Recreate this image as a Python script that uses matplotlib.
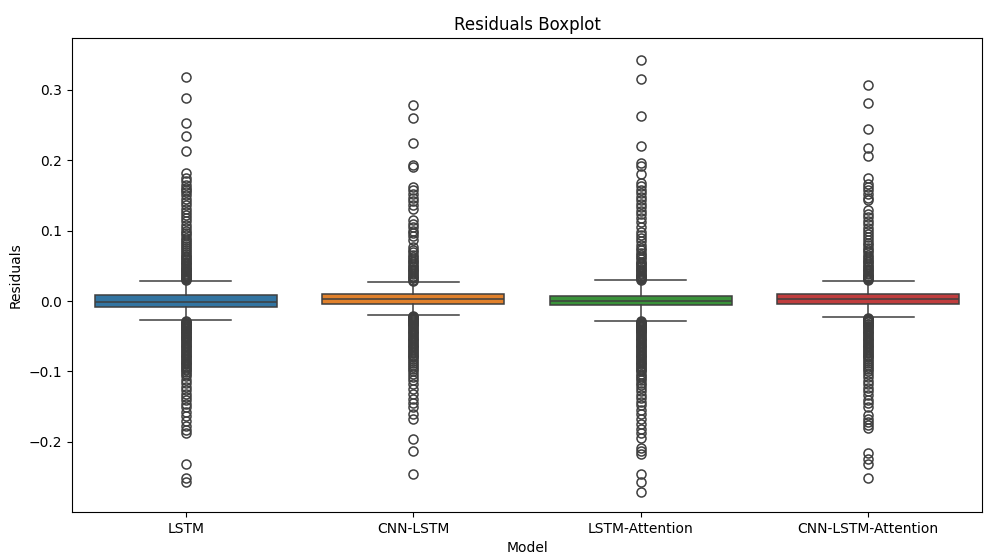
import matplotlib
matplotlib.use("Agg")
import matplotlib.pyplot as plt

models = ["LSTM", "CNN-LSTM", "LSTM-Attention", "CNN-LSTM-Attention"]
colors = ["#3274a1", "#e1812c", "#3a923a", "#c03d3e"]

q1 = [-0.0081, -0.0038, -0.0060, -0.0047]
med = [-0.0020, 0.0028, 0.0004, 0.0024]
q3 = [0.0085, 0.0095, 0.0075, 0.0100]
whislo = [-0.0275, -0.0200, -0.0280, -0.0230]
whishi = [0.0290, 0.0265, 0.0294, 0.0280]

fliers_lstm = [0.318, 0.289, 0.253, 0.234, 0.213, 0.182, 0.175, 0.170, 0.165, 0.161, 0.158,
               0.155, 0.150, 0.145, 0.140, 0.136, 0.131, 0.127, 0.122, 0.118, 0.113, 0.108,
               0.104, 0.100, 0.097, 0.094, 0.090, 0.087, 0.084, 0.081, 0.078, 0.075, 0.072,
               0.069, 0.067, 0.064, 0.062, 0.060, 0.058, 0.056, 0.054, 0.052, 0.050, 0.048,
               0.046, 0.045, 0.043, 0.042, 0.040, 0.039, 0.037, 0.036, 0.035, 0.034, 0.033,
               0.032, 0.031, 0.030,
               -0.029, -0.030, -0.031, -0.032, -0.033, -0.034, -0.035, -0.036, -0.037, -0.038,
               -0.039, -0.040, -0.042, -0.043, -0.045, -0.046, -0.048, -0.049, -0.051, -0.052,
               -0.054, -0.056, -0.058, -0.060, -0.062, -0.064, -0.066, -0.068, -0.070, -0.072,
               -0.074, -0.076, -0.078, -0.080, -0.082, -0.084, -0.086, -0.088, -0.090, -0.092,
               -0.094, -0.096, -0.098, -0.101, -0.104, -0.107, -0.112, -0.117, -0.122, -0.127,
               -0.132, -0.137, -0.141, -0.146, -0.151, -0.157, -0.163, -0.170, -0.178, -0.183,
               -0.188, -0.231, -0.252, -0.257]

fliers_cnn_lstm = [0.278, 0.260, 0.224, 0.193, 0.191, 0.162, 0.157, 0.152, 0.147, 0.142, 0.136,
                   0.131, 0.115, 0.110, 0.105, 0.100, 0.096, 0.092, 0.087, 0.077, 0.073, 0.069,
                   0.066, 0.063, 0.060, 0.057, 0.055, 0.052, 0.050, 0.048, 0.046, 0.044, 0.042,
                   0.040, 0.038, 0.036, 0.034, 0.032, 0.030, 0.028,
                   -0.021, -0.022, -0.023, -0.024, -0.025, -0.026, -0.027, -0.028, -0.030, -0.031,
                   -0.033, -0.034, -0.036, -0.038, -0.040, -0.042, -0.044, -0.046, -0.048, -0.050,
                   -0.052, -0.054, -0.056, -0.058, -0.060, -0.062, -0.064, -0.066, -0.068, -0.070,
                   -0.072, -0.074, -0.076, -0.078, -0.080, -0.082, -0.085, -0.088, -0.091, -0.094,
                   -0.097, -0.100, -0.104, -0.108, -0.112, -0.118, -0.125, -0.132, -0.139, -0.145,
                   -0.150, -0.160, -0.167, -0.196, -0.213, -0.246]

fliers_lstm_att = [0.343, 0.315, 0.263, 0.220, 0.196, 0.192, 0.181, 0.168, 0.163, 0.158, 0.153,
                   0.148, 0.143, 0.138, 0.133, 0.128, 0.123, 0.118, 0.112, 0.105, 0.098, 0.094,
                   0.090, 0.085, 0.080, 0.076, 0.072, 0.068, 0.065, 0.062, 0.059, 0.056, 0.054,
                   0.052, 0.050, 0.048, 0.046, 0.044, 0.042, 0.040, 0.038, 0.036, 0.035, 0.034,
                   0.033, 0.032, 0.031, 0.030,
                   -0.029, -0.030, -0.031, -0.032, -0.033, -0.034, -0.035, -0.036, -0.037, -0.038,
                   -0.040, -0.041, -0.043, -0.044, -0.046, -0.048, -0.050, -0.052, -0.054, -0.056,
                   -0.058, -0.060, -0.062, -0.064, -0.066, -0.068, -0.070, -0.072, -0.074, -0.076,
                   -0.078, -0.080, -0.082, -0.084, -0.086, -0.088, -0.090, -0.092, -0.094, -0.096,
                   -0.098, -0.100, -0.103, -0.106, -0.109, -0.112, -0.116, -0.120, -0.124, -0.128,
                   -0.133, -0.138, -0.143, -0.148, -0.155, -0.161, -0.167, -0.175, -0.182, -0.188,
                   -0.194, -0.209, -0.213, -0.217, -0.246, -0.257, -0.271]

fliers_cnn_lstm_att = [0.307, 0.281, 0.245, 0.218, 0.206, 0.175, 0.166, 0.162, 0.157, 0.152,
                       0.147, 0.143, 0.129, 0.124, 0.119, 0.114, 0.109, 0.104, 0.099, 0.095,
                       0.091, 0.087, 0.083, 0.079, 0.075, 0.072, 0.069, 0.066, 0.063, 0.060,
                       0.057, 0.055, 0.052, 0.050, 0.048, 0.046, 0.044, 0.042, 0.040, 0.038,
                       0.036, 0.035, 0.034, 0.033, 0.032, 0.031, 0.030,
                       -0.024, -0.025, -0.026, -0.027, -0.028, -0.029, -0.030, -0.032, -0.033,
                       -0.035, -0.036, -0.038, -0.040, -0.042, -0.044, -0.046, -0.048, -0.050,
                       -0.052, -0.054, -0.056, -0.058, -0.060, -0.062, -0.064, -0.066, -0.068,
                       -0.070, -0.072, -0.074, -0.076, -0.078, -0.080, -0.082, -0.085, -0.088,
                       -0.091, -0.094, -0.097, -0.100, -0.104, -0.108, -0.113, -0.118, -0.123,
                       -0.128, -0.134, -0.140, -0.145, -0.150, -0.162, -0.167, -0.172, -0.176,
                       -0.180, -0.216, -0.225, -0.232, -0.252]

fliers = [fliers_lstm, fliers_cnn_lstm, fliers_lstm_att, fliers_cnn_lstm_att]

gray = "#3f3f3f"
fig = plt.figure(figsize=(9.84, 5.56), dpi=100)
ax = fig.add_axes([72 / 984, 1 - 512 / 556, 910 / 984, 474 / 556])

stats = []
for i, m in enumerate(models):
    stats.append(dict(label=m, q1=q1[i], med=med[i], q3=q3[i],
                      whislo=whislo[i], whishi=whishi[i], fliers=fliers[i]))

bp = ax.bxp(stats, positions=range(len(models)), widths=0.8, patch_artist=True,
            capwidths=0.4,
            boxprops=dict(edgecolor=gray, linewidth=1.1),
            medianprops=dict(color=gray, linewidth=1.1),
            whiskerprops=dict(color=gray, linewidth=1.1),
            capprops=dict(color=gray, linewidth=1.1),
            flierprops=dict(marker="o", markerfacecolor="none", markeredgecolor=gray,
                            markersize=6.5, markeredgewidth=1.1))
for patch, c in zip(bp["boxes"], colors):
    patch.set_facecolor(c)

ax.set_xlim(-0.5, 3.5)
ax.set_ylim(-0.2997, 0.3736)
ax.set_xticks(range(len(models)))
ax.set_xticklabels(models)
ax.set_title("Residuals Boxplot", fontsize=12)
ax.set_xlabel("Model")
ax.set_ylabel("Residuals")

fig.savefig("out.png", dpi=100)
